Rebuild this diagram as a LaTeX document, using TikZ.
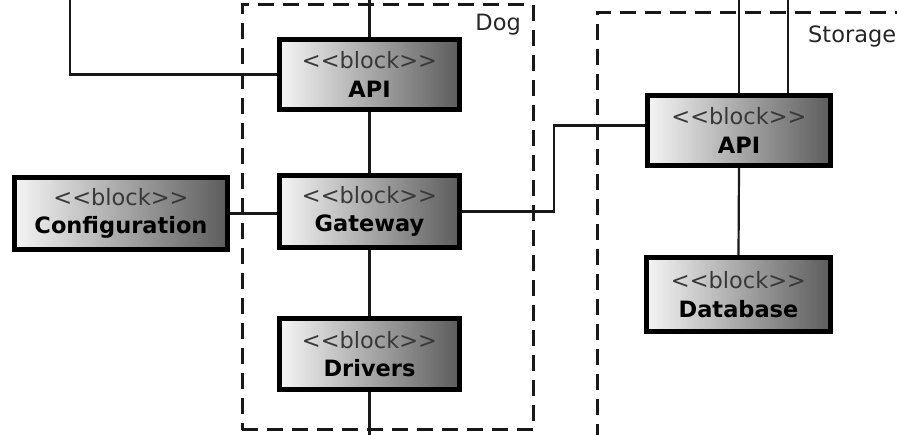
\documentclass[tikz,border=0pt]{standalone}
\usepackage{fontspec}
\newfontfamily\dvs{DejaVu Sans}
\begin{document}
\begin{tikzpicture}[x=1pt,y=-1pt,
  blk/.style={draw=black, line width=5pt, left color=black!4, right color=black!64,
    minimum width=180pt, minimum height=70pt, inner sep=0pt, align=center,
    font=\dvs\fontsize{22.5}{28.5}\selectfont},
  conn/.style={draw=black!90, line width=2.2pt},
  cont/.style={draw=black!90, line width=3pt, dash pattern=on 16pt off 9pt},
  lbl/.style={font=\dvs\fontsize{22.5}{25}\selectfont, text=black!85, inner sep=0pt}]
\useasboundingbox (0,0) rectangle (897,435);
\newcommand{\stereo}{\textcolor{black!78}{<\kern0pt<block>\kern0pt>}}
% containers
\node[cont, minimum width=291pt, minimum height=425pt, inner sep=0pt] (dog) at (387.5,217.5) {};
\node[lbl, anchor=east] (doglbl) at (521,25) {Dog};
\coordinate (sbl) at (597,440);
\coordinate (stl) at (597,13);
\coordinate (str) at (905,13);
\draw[cont] (sbl) -- (stl) -- (str);
\node[lbl, anchor=west] (storlbl) at (808,36) {Storage};
% blocks
\node[blk, minimum width=180pt, minimum height=70pt] (dapi) at (369.5,74.5) {\stereo\\\textbf{API}};
\node[blk, minimum width=180pt, minimum height=72pt] (gw) at (369.5,211.5) {\stereo\\\textbf{Gateway}};
\node[blk, minimum width=180pt, minimum height=71pt] (drv) at (369.5,354) {\stereo\\\textbf{Drivers}};
\node[blk, minimum width=213pt, minimum height=72pt] (cfg) at (121,213.5) {\stereo\\\textbf{Configuration}};
\node[blk, minimum width=183pt, minimum height=70pt] (sapi) at (739,130.5) {\stereo\\\textbf{API}};
\node[blk, minimum width=184pt, minimum height=74pt] (db) at (738.5,294.5) {\stereo\\\textbf{Database}};
% free ends
\coordinate (t1) at (368,0);
\coordinate (t2) at (70,0);
\coordinate (t3) at (788,0);
\coordinate (b1) at (369.5,440);
% connectors
\draw[conn] (dapi.north) -- (dapi.north |- t1);
\draw[conn] (dapi.west) -| (t2);
\draw[conn] (dapi.south) -- (gw.north);
\draw[conn] (gw.south) -- (drv.north);
\draw[conn] (drv.south) -- (b1);
\draw[conn] (cfg.east) -- (cfg.east -| gw.west);
\draw[conn] (gw.east) -- ++(92,0) |- ([yshift=5pt]sapi.west);
\draw[conn] (sapi.north) -- (sapi.north |- t1);
\draw[conn] (sapi.north -| t3) -- (t3);
\draw[conn] (sapi.south) -- (db.north);
\end{tikzpicture}
\end{document}
